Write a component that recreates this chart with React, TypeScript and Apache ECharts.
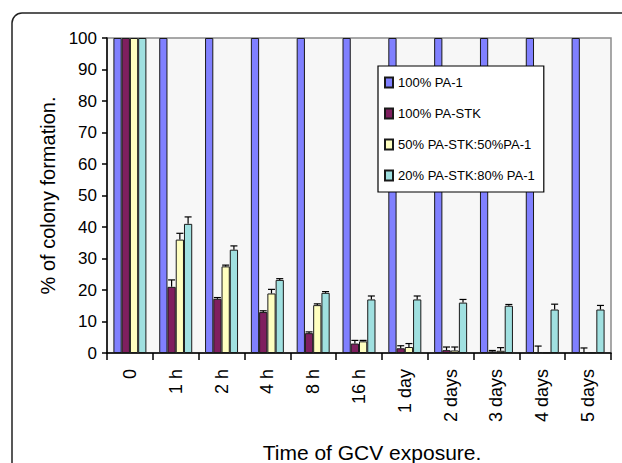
import React, { useEffect, useRef } from "react";
import * as echarts from "echarts";

const categories = ["0", "1 h", "2 h", "4 h", "8 h", "16 h", "1 day", "2 days", "3 days", "4 days", "5 days"];
const seriesNames = ["100% PA-1", "100% PA-STK", "50% PA-STK:50%PA-1", "20% PA-STK:80% PA-1"];
const pa1 = [100, 100, 100, 100, 100, 100, 100, 100, 100, 100, 100];
const paStk = [100, 21, 17.2, 13, 6.3, 3, 1.5, 0.9, 0.5, 0.3, 0.3];
const paStkErr = [0, 2.2, 0.4, 0.4, 0.4, 1, 0.8, 1.0, 0.3, 1.9, 1.3];
const mix50 = [100, 36, 27.5, 18.9, 15.2, 3.7, 1.9, 0.8, 0.7, 0.2, 0.2];
const mix50Err = [0, 2, 0.4, 1.3, 0.4, 0.3, 1.1, 1.1, 1.0, 0, 0];
const mix20 = [100, 41, 32.8, 23.2, 19.1, 17, 17, 16, 15, 13.8, 13.8];
const mix20Err = [0, 2.2, 1.2, 0.4, 0.4, 1.1, 1.1, 1, 0.4, 1.7, 1.3];
const yTicks = { min: 0, max: 100, interval: 10 };

const colors = ["#8080FF", "#7F1F5F", "#FFFFC0", "#A0E0E0"];
const FONT = "'Liberation Sans', Arial, sans-serif";
const BAR_FRAC = 0.18;

function errorSeries(k: number, vals: number[], errs: number[]) {
  return {
    type: "custom",
    name: seriesNames[k] + " error",
    z: 5,
    silent: true,
    encode: { x: 0, y: 1 },
    data: categories.map((_, i) => [i, vals[i], errs[i]]),
    renderItem: (_params: any, api: any) => {
      const err = api.value(2);
      if (!err) return null;
      const ci = api.value(0);
      const v = api.value(1);
      const base = api.coord([ci, v]);
      const top = api.coord([ci, v + err]);
      const band = api.size([1, 0])[0];
      const bw = band * BAR_FRAC;
      const cx = base[0] + (k - 1.5) * bw;
      const st = { stroke: "#000", lineWidth: 1.2 };
      return {
        type: "group",
        children: [
          { type: "line", shape: { x1: cx, y1: base[1], x2: cx, y2: top[1] }, style: st },
          { type: "line", shape: { x1: cx - 3.5, y1: top[1], x2: cx + 3.5, y2: top[1] }, style: st },
        ],
      };
    },
  };
}

export default function App() {
  const ref = useRef<HTMLDivElement>(null);
  useEffect(() => {
    if (!ref.current) return;
    const chart = echarts.init(ref.current, undefined, { renderer: "svg" });
    const barData = [pa1, paStk, mix50, mix20];
    chart.setOption({
      animation: false,
      backgroundColor: "#fff",
      textStyle: { fontFamily: FONT, color: "#000" },
      grid: {
        left: 107,
        top: 38,
        right: 11,
        bottom: 110,
        show: true,
        backgroundColor: "#f7f7f7",
        borderColor: "#8c8c8c",
        borderWidth: 1.5,
      },
      legend: {
        data: seriesNames,
        orient: "vertical",
        left: 378,
        top: 66,
        itemWidth: 8,
        itemHeight: 10,
        itemGap: 18,
        padding: [10, 9, 10, 6],
        backgroundColor: "#fff",
        borderColor: "#000",
        borderWidth: 1.2,
        borderRadius: 0,
        icon: "rect",
        textStyle: { fontSize: 13, color: "#000", fontFamily: FONT },
      },
      xAxis: {
        type: "category",
        data: categories,
        axisLine: { lineStyle: { color: "#000", width: 1.5 } },
        axisTick: { show: true, length: 7, lineStyle: { color: "#000", width: 1.5 } },
        axisLabel: { rotate: 90, margin: 16, fontSize: 18, color: "#000", fontFamily: FONT },
        splitLine: { show: false },
      },
      yAxis: {
        type: "value",
        min: yTicks.min,
        max: yTicks.max,
        interval: yTicks.interval,
        name: "% of colony formation.",
        nameLocation: "middle",
        nameGap: 47,
        nameTextStyle: { fontSize: 20, color: "#000", fontFamily: FONT },
        axisLine: { show: true, lineStyle: { color: "#000", width: 1.5 } },
        axisTick: { show: true, length: 5, lineStyle: { color: "#000", width: 1.5 } },
        axisLabel: { margin: 10, fontSize: 17, color: "#000", fontFamily: FONT },
        splitLine: { show: false },
      },
      graphic: [
        {
          type: "rect",
          shape: { x: 12, y: 13, width: 720, height: 620, r: 10 },
          style: { fill: "none", stroke: "#222", lineWidth: 1.5 },
          silent: true,
          z: 100,
        },
        {
          type: "text",
          x: 372,
          y: 452,
          style: {
            text: "Time of GCV exposure.",
            fontSize: 21,
            fontFamily: FONT,
            fill: "#000",
            align: "center",
            verticalAlign: "middle",
            textAlign: "center",
            textVerticalAlign: "middle",
          },
          z: 100,
        },
      ],
      series: [
        ...barData.map((vals, k) => ({
          type: "bar",
          name: seriesNames[k],
          data: vals,
          barWidth: `${BAR_FRAC * 100}%`,
          barGap: "0%",
          itemStyle: { color: colors[k], borderColor: "#1a1a1a", borderWidth: 1 },
        })),
        errorSeries(1, paStk, paStkErr),
        errorSeries(2, mix50, mix50Err),
        errorSeries(3, mix20, mix20Err),
      ],
    });
    return () => chart.dispose();
  }, []);
  return (
    <div
      ref={ref}
      style={{ position: "fixed", left: 0, top: 0, width: 622, height: 463 }}
    />
  );
}
